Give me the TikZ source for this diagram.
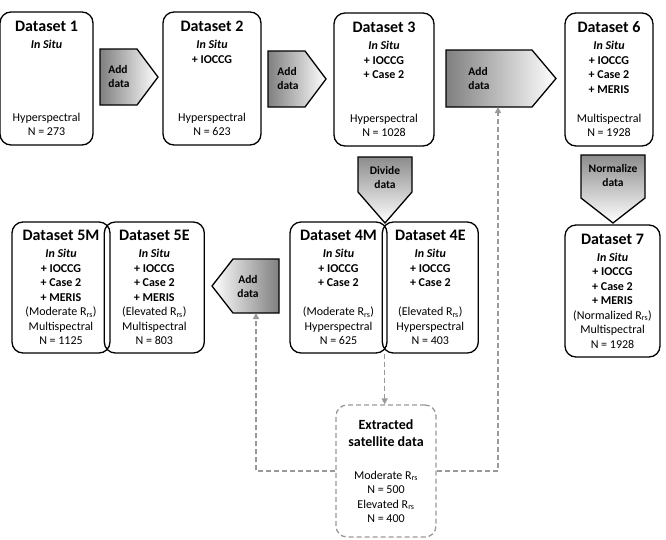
\documentclass[tikz,border=0pt]{standalone}
\usepackage{fontspec}
\setmainfont{Carlito}
\usetikzlibrary{arrows.meta, positioning, calc}
\newcommand{\rrs}{R\textsubscript{rs}}
\newcommand{\dstitle}[1]{{\fontsize{16}{16}\selectfont\bfseries #1}\\[2.5pt]}
\newcommand{\insitu}{\textbf{\textit{In Situ}}}

\begin{document}
\begin{tikzpicture}[x=1pt, y=-1pt,
    dset/.style={draw, line width=1.3pt, rounded corners=11pt, align=center, inner sep=0pt,
      font=\fontsize{12}{14.5}\selectfont},
    arrshape/.style={draw, line width=1.3pt, line join=miter},
    toright/.style={arrshape, left color=black!50, right color=white},
    toleft/.style={arrshape, left color=white, right color=black!50},
    todown/.style={arrshape, top color=black!45, bottom color=white},
    arrtext/.style={inner sep=0pt, font=\fontsize{11.5}{14}\selectfont\bfseries},
    link/.style={draw=black!40, line width=1.4pt, dash pattern=on 5pt off 3pt,
      -{Triangle[length=6pt, width=6pt]}}
  ]
  \useasboundingbox (0,0) rectangle (666,539);

  % top row
  \node[dset, minimum width=93pt, minimum height=133pt] (d1) at (46.5,78.5)
    {\dstitle{Dataset 1}\insitu\\ ~\\ ~\\ ~\\ ~\\ Hyperspectral\\ N = 273};
  \node[dset, minimum width=98pt, minimum height=133pt] (d2) at (212,78.5)
    {\dstitle{Dataset 2}\insitu\\ \textbf{+ IOCCG}\\ ~\\ ~\\ ~\\ Hyperspectral\\ N = 623};
  \node[dset, minimum width=100pt, minimum height=133pt] (d3) at (384,79.5)
    {\dstitle{Dataset 3}\insitu\\ \textbf{+ IOCCG}\\ \textbf{+ Case 2}\\ ~\\ ~\\ Hyperspectral\\ N = 1028};
  \node[dset, minimum width=88pt, minimum height=133pt] (d6) at (609,79.5)
    {\dstitle{Dataset 6}\insitu\\ \textbf{+ IOCCG}\\ \textbf{+ Case 2}\\ \textbf{+ MERIS}\\ ~\\ Multispectral\\ N = 1928};

  % block arrows
  \path[toright] (100,49) -- (137,49) -- (158,77) -- (137,105) -- (100,105) -- cycle;
  \node[arrtext, align=left] (add1) at (119,76.5) {Add\\data};
  \path[toright] (268,51) -- (305,51) -- (326,79) -- (305,107) -- (268,107) -- cycle;
  \node[arrtext, align=left] (add2) at (288,78.5) {Add\\data};
  \path[toright] (446,50) -- (532,50) -- (556,78.5) -- (532,107) -- (446,107) -- cycle;
  \node[arrtext, align=left] (add3) at (479,78.5) {Add\\data};
  \coordinate (add3foot) at (498,107);
  \path[todown] (358,157) -- (412,157) -- (412,192) -- (385,223) -- (358,192) -- cycle;
  \node[arrtext, align=center] (divide) at (385,177.5) {Divide\\data};
  \path[todown] (581,155) -- (645,155) -- (645,198) -- (613,223) -- (581,198) -- cycle;
  \node[arrtext, align=center] (norm) at (613,175.5) {Normalize\\data};
  \path[toleft] (212,286) -- (233,259) -- (279,259) -- (279,313) -- (233,313) -- cycle;
  \node[arrtext, align=center] (addl) at (248,286.5) {Add\\data};
  \coordinate (addlfoot) at (256,313);

  % lower row
  \node[dset, minimum width=97pt, minimum height=131pt] (d4m) at (338.5,287.5)
    {\dstitle{Dataset 4M}\insitu\\ \textbf{+ IOCCG}\\ \textbf{+ Case 2}\\ ~\\ (Moderate \rrs)\\ Hyperspectral\\ N = 625};
  \node[dset, minimum width=96pt, minimum height=131pt, right=-6pt of d4m] (d4e)
    {\dstitle{Dataset 4E}\insitu\\ \textbf{+ IOCCG}\\ \textbf{+ Case 2}\\ ~\\ (Elevated \rrs)\\ Hyperspectral\\ N = 403};
  \node[dset, minimum width=98pt, minimum height=131pt] (d5m) at (61,287.5)
    {\dstitle{Dataset 5M}\insitu\\ \textbf{+ IOCCG}\\ \textbf{+ Case 2}\\ \textbf{+ MERIS}\\ (Moderate \rrs)\\ Multispectral\\ N = 1125};
  \node[dset, minimum width=100pt, minimum height=131pt, right=-7pt of d5m] (d5e)
    {\dstitle{Dataset 5E}\insitu\\ \textbf{+ IOCCG}\\ \textbf{+ Case 2}\\ \textbf{+ MERIS}\\ (Elevated \rrs)\\ Multispectral\\ N = 803};
  \node[dset, minimum width=95pt, minimum height=132pt] (d7) at (612.5,291)
    {\dstitle{Dataset 7}\insitu\\ \textbf{+ IOCCG}\\ \textbf{+ Case 2}\\ \textbf{+ MERIS}\\ (Normalized \rrs)\\ Multispectral\\ N = 1928};

  % satellite data
  \node[dset, draw=black!40, dash pattern=on 5pt off 3pt, minimum width=100pt, minimum height=132pt] (ext) at (386,471)
    {\textbf{\fontsize{14}{17}\selectfont Extracted}\\[2.5pt]\textbf{\fontsize{14}{17}\selectfont satellite data}\\[18.5pt]
     Moderate \rrs\\ N = 500\\ Elevated \rrs\\ N = 400};

  \coordinate (split) at ($(d4m.south east)!0.5!(d4e.south west)$);
  \draw[link] (split) -- (split |- ext.north);
  \draw[link] (ext.west) -| (addlfoot);
  \draw[link] (ext.east) -| (add3foot);
\end{tikzpicture}
\end{document}
